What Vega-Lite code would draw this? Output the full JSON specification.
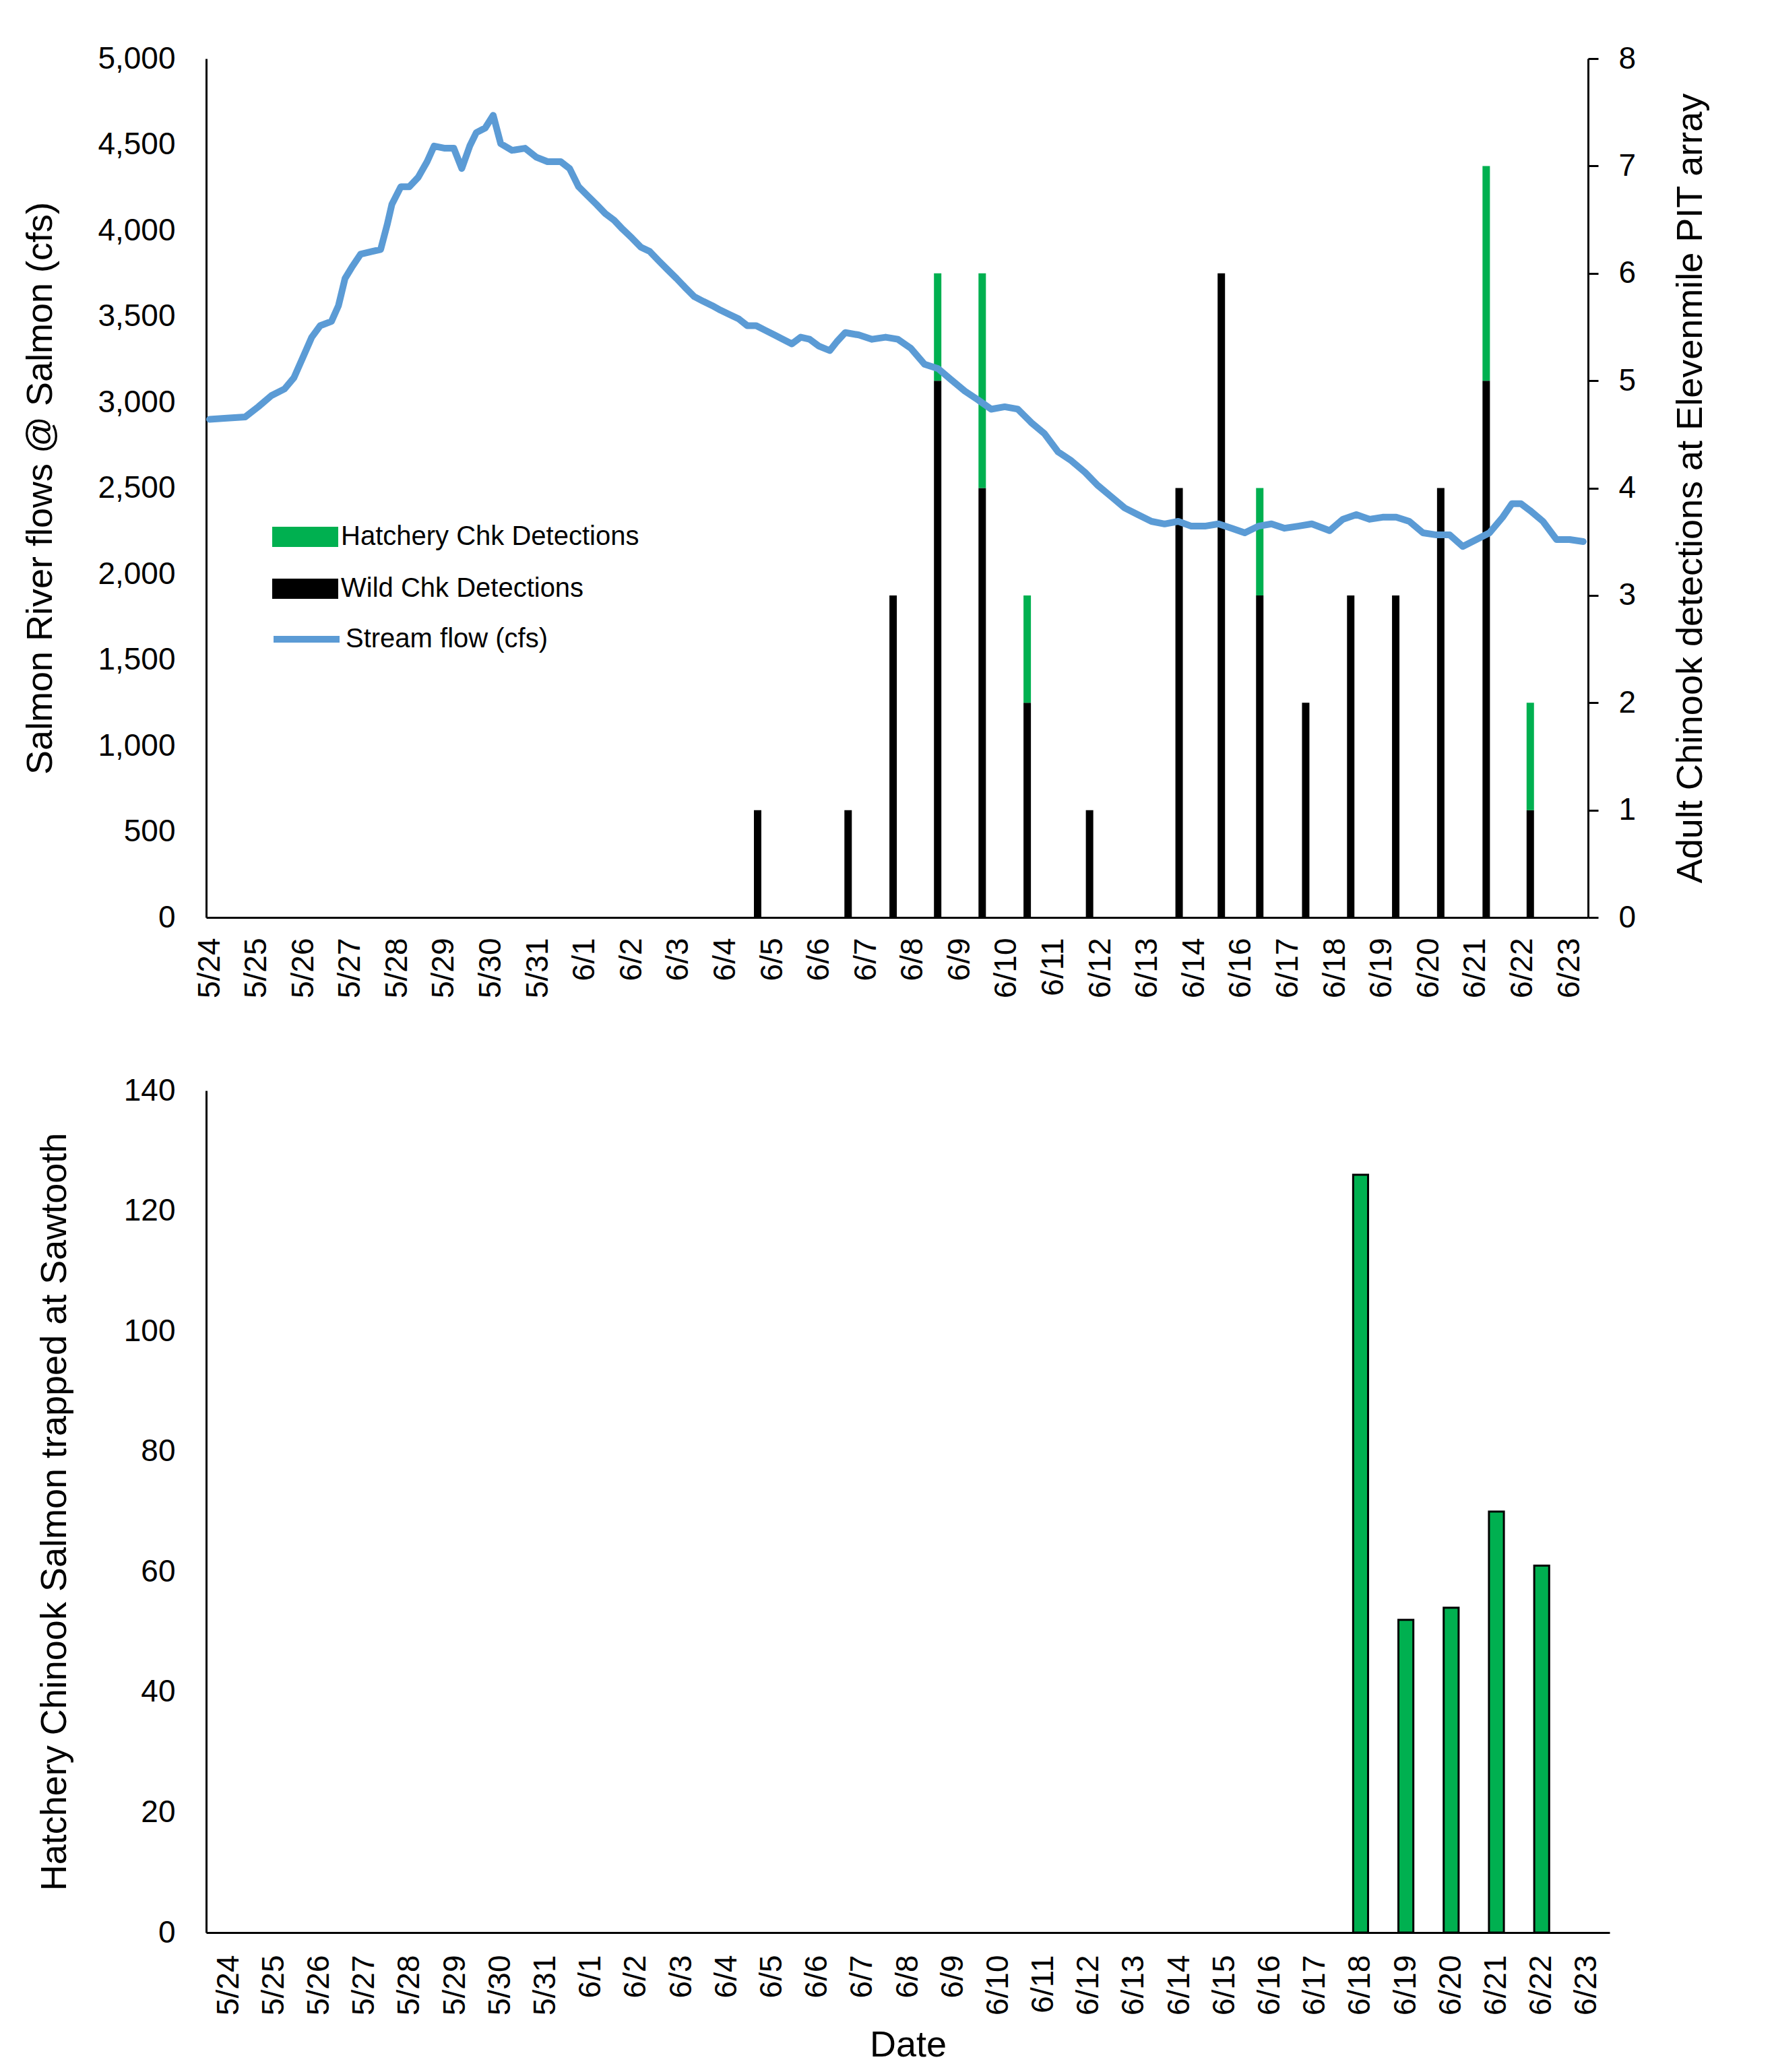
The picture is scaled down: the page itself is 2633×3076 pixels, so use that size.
{
  "$schema": "https://vega.github.io/schema/vega-lite/v6.json",
  "padding": {"top": 64, "left": 33, "right": 10, "bottom": 10},
  "config": {
    "font": "Liberation Sans",
    "view": {"stroke": null},
    "axis": {"labelFont": "Liberation Sans", "titleFont": "Liberation Sans", "labelFontSize": 46, "titleFontSize": 54, "titleFontWeight": "normal", "labelColor": "#000000", "titleColor": "#000000", "domainColor": "#000000", "domainWidth": 3, "tickColor": "#000000", "grid": false},
    "legend": {"labelFont": "Liberation Sans", "labelFontSize": 40, "labelColor": "#000000", "labelLimit": 0},
    "concat": {"spacing": 114}
  },
  "datasets": {
    "detections": [
      {"t": 11.69, "type": "Wild Chk Detections", "count": 1},
      {"t": 13.62, "type": "Wild Chk Detections", "count": 1},
      {"t": 14.58, "type": "Wild Chk Detections", "count": 3},
      {"t": 15.53, "type": "Wild Chk Detections", "count": 5},
      {"t": 15.53, "type": "Hatchery Chk Detections", "count": 1},
      {"t": 16.48, "type": "Wild Chk Detections", "count": 4},
      {"t": 16.48, "type": "Hatchery Chk Detections", "count": 2},
      {"t": 17.44, "type": "Wild Chk Detections", "count": 2},
      {"t": 17.44, "type": "Hatchery Chk Detections", "count": 1},
      {"t": 18.77, "type": "Wild Chk Detections", "count": 1},
      {"t": 20.68, "type": "Wild Chk Detections", "count": 4},
      {"t": 21.58, "type": "Wild Chk Detections", "count": 6},
      {"t": 22.40, "type": "Wild Chk Detections", "count": 3},
      {"t": 22.40, "type": "Hatchery Chk Detections", "count": 1},
      {"t": 23.38, "type": "Wild Chk Detections", "count": 2},
      {"t": 24.34, "type": "Wild Chk Detections", "count": 3},
      {"t": 25.30, "type": "Wild Chk Detections", "count": 3},
      {"t": 26.26, "type": "Wild Chk Detections", "count": 4},
      {"t": 27.23, "type": "Wild Chk Detections", "count": 5},
      {"t": 27.23, "type": "Hatchery Chk Detections", "count": 2},
      {"t": 28.17, "type": "Wild Chk Detections", "count": 1},
      {"t": 28.17, "type": "Hatchery Chk Detections", "count": 1}
    ],
    "flow": [
      {"t": 0.00, "flow": 2900}, {"t": 0.37, "flow": 2907}, {"t": 0.76, "flow": 2914}, {"t": 1.04, "flow": 2973},
      {"t": 1.32, "flow": 3038}, {"t": 1.60, "flow": 3077}, {"t": 1.80, "flow": 3142}, {"t": 1.99, "flow": 3260},
      {"t": 2.18, "flow": 3378}, {"t": 2.36, "flow": 3445}, {"t": 2.60, "flow": 3470}, {"t": 2.75, "flow": 3562},
      {"t": 2.89, "flow": 3720}, {"t": 3.03, "flow": 3783}, {"t": 3.22, "flow": 3861}, {"t": 3.46, "flow": 3877},
      {"t": 3.65, "flow": 3889}, {"t": 3.79, "flow": 4034}, {"t": 3.89, "flow": 4152}, {"t": 4.08, "flow": 4254},
      {"t": 4.26, "flow": 4254}, {"t": 4.45, "flow": 4309}, {"t": 4.64, "flow": 4400}, {"t": 4.79, "flow": 4491},
      {"t": 5.02, "flow": 4478}, {"t": 5.21, "flow": 4478}, {"t": 5.38, "flow": 4360}, {"t": 5.55, "flow": 4491},
      {"t": 5.69, "flow": 4569}, {"t": 5.88, "flow": 4596}, {"t": 6.05, "flow": 4670}, {"t": 6.21, "flow": 4505},
      {"t": 6.45, "flow": 4466}, {"t": 6.73, "flow": 4478}, {"t": 6.97, "flow": 4426}, {"t": 7.21, "flow": 4400},
      {"t": 7.49, "flow": 4400}, {"t": 7.68, "flow": 4360}, {"t": 7.87, "flow": 4255}, {"t": 8.06, "flow": 4203},
      {"t": 8.25, "flow": 4152}, {"t": 8.44, "flow": 4098}, {"t": 8.63, "flow": 4059}, {"t": 8.81, "flow": 4007},
      {"t": 9.01, "flow": 3955}, {"t": 9.20, "flow": 3902}, {"t": 9.39, "flow": 3877}, {"t": 9.58, "flow": 3823},
      {"t": 9.77, "flow": 3771}, {"t": 9.96, "flow": 3720}, {"t": 10.15, "flow": 3666}, {"t": 10.34, "flow": 3614},
      {"t": 10.53, "flow": 3587}, {"t": 10.72, "flow": 3562}, {"t": 10.90, "flow": 3535}, {"t": 11.10, "flow": 3509},
      {"t": 11.29, "flow": 3484}, {"t": 11.47, "flow": 3445}, {"t": 11.66, "flow": 3445}, {"t": 11.86, "flow": 3417},
      {"t": 12.05, "flow": 3391}, {"t": 12.23, "flow": 3366}, {"t": 12.42, "flow": 3339}, {"t": 12.61, "flow": 3378},
      {"t": 12.80, "flow": 3366}, {"t": 12.99, "flow": 3327}, {"t": 13.23, "flow": 3300}, {"t": 13.38, "flow": 3352},
      {"t": 13.56, "flow": 3405}, {"t": 13.85, "flow": 3391}, {"t": 14.13, "flow": 3366}, {"t": 14.42, "flow": 3378},
      {"t": 14.68, "flow": 3366}, {"t": 14.96, "flow": 3313}, {"t": 15.25, "flow": 3221}, {"t": 15.54, "flow": 3195},
      {"t": 15.82, "flow": 3130}, {"t": 16.11, "flow": 3064}, {"t": 16.39, "flow": 3013}, {"t": 16.67, "flow": 2959},
      {"t": 16.96, "flow": 2973}, {"t": 17.24, "flow": 2959}, {"t": 17.53, "flow": 2880}, {"t": 17.81, "flow": 2816},
      {"t": 18.10, "flow": 2710}, {"t": 18.38, "flow": 2659}, {"t": 18.67, "flow": 2592}, {"t": 18.95, "flow": 2514},
      {"t": 19.24, "flow": 2448}, {"t": 19.52, "flow": 2384}, {"t": 19.80, "flow": 2345}, {"t": 20.09, "flow": 2306},
      {"t": 20.37, "flow": 2291}, {"t": 20.66, "flow": 2306}, {"t": 20.94, "flow": 2278}, {"t": 21.23, "flow": 2278},
      {"t": 21.52, "flow": 2291}, {"t": 21.80, "flow": 2266}, {"t": 22.08, "flow": 2239}, {"t": 22.37, "flow": 2278},
      {"t": 22.65, "flow": 2291}, {"t": 22.93, "flow": 2266}, {"t": 23.22, "flow": 2278}, {"t": 23.51, "flow": 2291},
      {"t": 23.89, "flow": 2252}, {"t": 24.17, "flow": 2318}, {"t": 24.46, "flow": 2345}, {"t": 24.74, "flow": 2318},
      {"t": 25.02, "flow": 2330}, {"t": 25.31, "flow": 2330}, {"t": 25.59, "flow": 2306}, {"t": 25.88, "flow": 2239},
      {"t": 26.17, "flow": 2227}, {"t": 26.45, "flow": 2227}, {"t": 26.73, "flow": 2160}, {"t": 27.02, "flow": 2200},
      {"t": 27.30, "flow": 2239}, {"t": 27.58, "flow": 2330}, {"t": 27.78, "flow": 2409}, {"t": 27.97, "flow": 2409},
      {"t": 28.16, "flow": 2370}, {"t": 28.44, "flow": 2306}, {"t": 28.73, "flow": 2200}, {"t": 29.01, "flow": 2200},
      {"t": 29.30, "flow": 2188}
    ],
    "trap": [
      {"date": "6/18", "n": 126},
      {"date": "6/19", "n": 52},
      {"date": "6/20", "n": 54},
      {"date": "6/21", "n": 70},
      {"date": "6/22", "n": 61}
    ]
  },
  "vconcat": [
    {
      "width": 2051,
      "height": 1275,
      "layer": [
        {
          "data": {"name": "detections"},
          "mark": {"type": "bar", "width": 11},
          "encoding": {
            "x": {
              "field": "t", "type": "quantitative",
              "scale": {"domain": [0, 29.33], "nice": false, "zero": false},
              "axis": {
                "title": null,
                "values": [0,1,2,3,4,5,6,7,8,9,10,11,12,13,14,15,16,17,18,19,20,21,22,23,24,25,26,27,28,29],
                "labelExpr": "['5/24','5/25','5/26','5/27','5/28','5/29','5/30','5/31','6/1','6/2','6/3','6/4','6/5','6/6','6/7','6/8','6/9','6/10','6/11','6/12','6/13','6/14','6/16','6/17','6/18','6/19','6/20','6/21','6/22','6/23'][datum.value]",
                "labelAngle": -90, "labelAlign": "right", "labelBaseline": "middle",
                "labelFlush": false, "labelOverlap": false, "ticks": false, "labelPadding": 30
              }
            },
            "y": {
              "field": "count", "type": "quantitative", "stack": "zero",
              "scale": {"domain": [0, 8], "nice": false},
              "axis": {
                "orient": "right",
                "title": "Adult Chinook detections at Elevenmile PIT array",
                "values": [0,1,2,3,4,5,6,7,8],
                "tickSize": 15, "tickWidth": 3, "labelPadding": 30,
                "titleAngle": -90, "titleBaseline": "top", "titlePadding": 55
              }
            },
            "color": {
              "field": "type", "type": "nominal",
              "scale": {"domain": ["Hatchery Chk Detections", "Wild Chk Detections"], "range": ["#00B050", "#000000"]},
              "legend": {
                "orient": "none", "legendX": 98, "legendY": 661, "title": null,
                "symbolType": "M-1,-0.306H1V0.306H-1Z", "symbolSize": 9604,
                "symbolStrokeWidth": 0, "labelOffset": 4, "rowPadding": 8
              }
            },
            "order": {"field": "type", "sort": "descending"}
          }
        },
        {
          "data": {"name": "flow"},
          "mark": {"type": "line", "strokeWidth": 10, "strokeJoin": "round", "strokeCap": "round"},
          "encoding": {
            "x": {"field": "t", "type": "quantitative"},
            "y": {
              "field": "flow", "type": "quantitative",
              "scale": {"domain": [0, 5000], "nice": false},
              "axis": {
                "orient": "left",
                "title": "Salmon River flows @ Salmon (cfs)",
                "values": [0,500,1000,1500,2000,2500,3000,3500,4000,4500,5000],
                "format": ",.0f", "ticks": false, "labelPadding": 46, "titlePadding": 57
              }
            },
            "stroke": {
              "datum": "Stream flow (cfs)",
              "scale": {"range": ["#5B9BD5"]},
              "legend": {
                "orient": "none", "legendX": 95, "legendY": 808, "title": null,
                "symbolType": "stroke", "symbolSize": 9604, "symbolStrokeWidth": 10,
                "labelOffset": 4
              }
            }
          }
        }
      ],
      "resolve": {"scale": {"y": "independent"}}
    },
    {
      "width": 2083,
      "height": 1250,
      "data": {"name": "trap"},
      "mark": {"type": "bar", "fill": "#00B050", "stroke": "#000000", "strokeWidth": 3},
      "encoding": {
        "x": {
          "field": "date", "type": "ordinal",
          "scale": {
            "domain": ["5/24","5/25","5/26","5/27","5/28","5/29","5/30","5/31","6/1","6/2","6/3","6/4","6/5","6/6","6/7","6/8","6/9","6/10","6/11","6/12","6/13","6/14","6/15","6/16","6/17","6/18","6/19","6/20","6/21","6/22","6/23"],
            "paddingInner": 0.67, "paddingOuter": 0.335
          },
          "axis": {"title": "Date", "labelAngle": -90, "labelAlign": "right", "labelBaseline": "middle", "ticks": false, "labelPadding": 33, "titlePadding": 18}
        },
        "y": {
          "field": "n", "type": "quantitative",
          "scale": {"domain": [0, 140], "nice": false},
          "axis": {"title": "Hatchery Chinook Salmon trapped at Sawtooth", "values": [0,20,40,60,80,100,120,140], "ticks": false, "labelPadding": 46, "titlePadding": 75}
        }
      }
    }
  ]
}
